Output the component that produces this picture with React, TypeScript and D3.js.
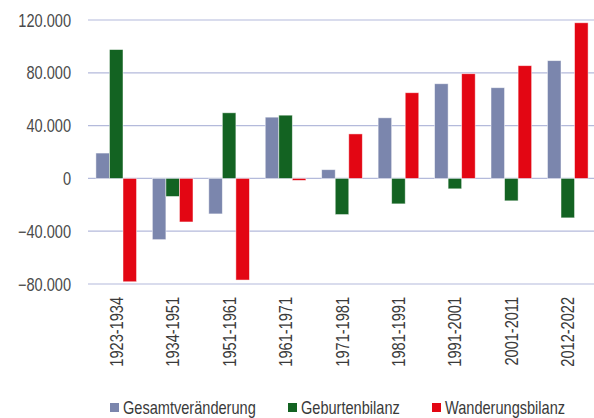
import React, { useEffect, useRef } from 'react';
import * as d3 from 'd3';

const categories = ['1923-1934', '1934-1951', '1951-1961', '1961-1971', '1971-1981', '1981-1991', '1991-2001', '2001-2011', '2012-2022'];
const seriesNames = ['Gesamtveränderung', 'Geburtenbilanz', 'Wanderungsbilanz'];
const gesamt = [19200, -46400, -26900, 46400, 6600, 45900, 71700, 68700, 89200];
const geburten = [97600, -13700, 49700, 47900, -27400, -19300, -7900, -17000, -29900];
const wanderung = [-78300, -33000, -77000, -1500, 33700, 64900, 79300, 85400, 117900];
const yTicks = [-80000, -40000, 0, 40000, 80000, 120000];
const colors = ['#7b86ad', '#136322', '#e30613'];

const FONT = '"Liberation Sans", Arial, sans-serif';
const SQUEEZE = 0.81; // condensed look

const App = () => {
  const ref = useRef<SVGSVGElement>(null);

  useEffect(() => {
    const svg = d3.select(ref.current);
    svg.selectAll('*').remove();
    const series = [gesamt, geburten, wanderung];

    const x = d3.scaleBand().domain(categories).range([88, 596]).paddingInner(0.28).paddingOuter(0.14);
    const xs = d3.scaleBand().domain(seriesNames).range([0, x.bandwidth()]);
    const y = d3.scaleLinear().domain([-80000, 120000]).range([284, 20]);
    const fmt = (v: number) => d3.format(',')(v).replace(/,/g, '.');

    // gridlines
    svg.append('g')
      .selectAll('line')
      .data(yTicks)
      .enter()
      .append('line')
      .attr('x1', 88)
      .attr('x2', 594)
      .attr('y1', (d) => y(d))
      .attr('y2', (d) => y(d))
      .attr('stroke', '#b4badb')
      .attr('stroke-width', 1.2);

    svg.append('g')
      .attr('font-family', FONT)
      .attr('font-size', 18)
      .attr('fill', '#4a4a4a')
      .attr('text-anchor', 'end')
      .selectAll('text')
      .data(yTicks)
      .enter()
      .append('text')
      .attr('transform', (d) => `translate(71,${y(d) + 6.5}) scale(${SQUEEZE},1)`)
      .text((d) => fmt(d));

    // bars
    series.forEach((vals, si) => {
      svg.append('g')
        .selectAll('rect')
        .data(vals)
        .enter()
        .append('rect')
        .attr('x', (_, i) => (x(categories[i]) ?? 0) + (xs(seriesNames[si]) ?? 0))
        .attr('width', xs.bandwidth())
        .attr('y', (d) => y(Math.max(0, d)))
        .attr('height', (d) => Math.abs(y(d) - y(0)))
        .attr('fill', colors[si])
        .attr('stroke', '#ffffff')
        .attr('stroke-opacity', 0.6)
        .attr('stroke-width', 0.8);
    });

    // category labels
    svg.append('g')
      .attr('font-family', FONT)
      .attr('font-size', 18)
      .attr('fill', '#3a3a3a')
      .attr('text-anchor', 'end')
      .selectAll('text')
      .data(categories)
      .enter()
      .append('text')
      .attr('transform', (d) => `translate(${(x(d) ?? 0) + x.bandwidth() / 2 + 6.5},297) rotate(-90) scale(${SQUEEZE},1)`)
      .text((d) => d);

    // legend
    const legendX = [110, 288, 432];
    const lg = svg.append('g').attr('font-family', FONT).attr('font-size', 18).attr('fill', '#3a3a3a');
    seriesNames.forEach((name, i) => {
      lg.append('rect').attr('x', legendX[i]).attr('y', 403).attr('width', 9).attr('height', 9).attr('fill', colors[i]);
      lg.append('text')
        .attr('transform', `translate(${legendX[i] + 13},414) scale(${SQUEEZE},1)`)
        .text(name);
    });
  }, []);

  return <svg ref={ref} width={594} height={418} style={{ position: 'absolute', left: 0, top: 0, background: '#fff' }} />;
};

export default App;
